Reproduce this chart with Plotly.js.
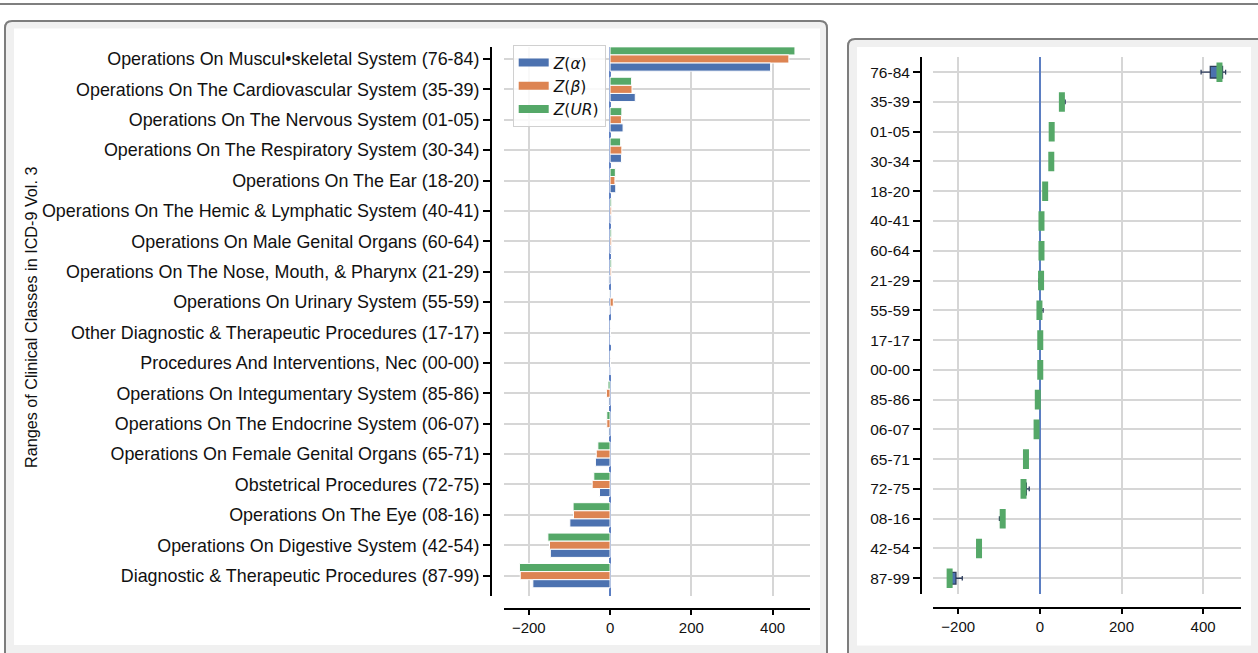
<!DOCTYPE html>
<html>
<head>
<meta charset="utf-8">
<script src="https://cdn.plot.ly/plotly-3.0.1.min.js"></script>
<style>html,body{margin:0;padding:0;background:#fff;}#chart{width:1258px;height:653px;}</style>
</head>
<body>
<div id="chart"></div>
<script>
// ---- data ----
const categories = [
  "Operations On Muscul\u2022skeletal System (76-84)",
  "Operations On The Cardiovascular System (35-39)",
  "Operations On The Nervous System (01-05)",
  "Operations On The Respiratory System (30-34)",
  "Operations On The Ear (18-20)",
  "Operations On The Hemic & Lymphatic System (40-41)",
  "Operations On Male Genital Organs (60-64)",
  "Operations On The Nose, Mouth, & Pharynx (21-29)",
  "Operations On Urinary System (55-59)",
  "Other Diagnostic & Therapeutic Procedures (17-17)",
  "Procedures And Interventions, Nec (00-00)",
  "Operations On Integumentary System (85-86)",
  "Operations On The Endocrine System (06-07)",
  "Operations On Female Genital Organs (65-71)",
  "Obstetrical Procedures (72-75)",
  "Operations On The Eye (08-16)",
  "Operations On Digestive System (42-54)",
  "Diagnostic & Therapeutic Procedures (87-99)"
];
const codes = ["76-84","35-39","01-05","30-34","18-20","40-41","60-64","21-29","55-59",
               "17-17","00-00","85-86","06-07","65-71","72-75","08-16","42-54","87-99"];
const zAlpha = [395, 62, 32, 28, 14, 3, 3, -3, -2, 1, 0, -4, -4, -36, -26, -99, -147, -190];
const zBeta  = [440, 54, 28, 29, 12, 4, 4,  3,  8, 1, 1, -9, -8, -34, -44, -90, -149, -221];
const zUR    = [455, 53, 29, 26, 13, 4, 4,  4, -1, 1, 1, -5, -8, -30, -40, -91, -153, -223];
const xTicks = [-200, 0, 200, 400];
const seriesNames = ["<i>Z</i>(<i>\u03b1</i>)", "<i>Z</i>(<i>\u03b2</i>)", "<i>Z</i>(<i>UR</i>)"];

// ---- style ----
const W = 1258, H = 653;
const BLUE = "#4c72b0", ORANGE = "#dd8452", GREEN = "#55a868";
const FONT = "Liberation Sans, Arial, sans-serif";
const px = v => v / W;
const py = v => 1 - v / H;

function rr(x0, y0, x1, y1, r) {
  const P = (x, y) => px(x).toFixed(5) + "," + py(y).toFixed(5);
  return "M" + P(x0 + r, y0) + " L" + P(x1 - r, y0) + " Q" + P(x1, y0) + " " + P(x1, y0 + r) +
         " L" + P(x1, y1 - r) + " Q" + P(x1, y1) + " " + P(x1 - r, y1) +
         " L" + P(x0 + r, y1) + " Q" + P(x0, y1) + " " + P(x0, y1 - r) +
         " L" + P(x0, y0 + r) + " Q" + P(x0, y0) + " " + P(x0 + r, y0) + " Z";
}

// ---- traces ----
const barLine = {color: "#ffffff", width: 1};
const traces = [];
// order: green top, orange middle, blue bottom within each group (y axis reversed)
traces.push({type: "bar", orientation: "h", x: zUR, y: categories, marker: {color: GREEN, line: barLine}, showlegend: false, xaxis: "x", yaxis: "y", hoverinfo: "x+y"});
traces.push({type: "bar", orientation: "h", x: zBeta, y: categories, marker: {color: ORANGE, line: barLine}, showlegend: false, xaxis: "x", yaxis: "y", hoverinfo: "x+y"});
traces.push({type: "bar", orientation: "h", x: zAlpha, y: categories, marker: {color: BLUE, line: barLine}, showlegend: false, xaxis: "x", yaxis: "y", hoverinfo: "x+y"});
// legend entries
[BLUE, ORANGE, GREEN].forEach((c, i) => {
  traces.push({type: "scatter", mode: "lines", x: [null], y: [null], name: seriesNames[i],
    line: {color: c, width: 8}, xaxis: "x", yaxis: "y", showlegend: true, legendrank: i + 1});
});

// box data
const boxX = [], boxY = [], medians = [];
for (let i = 0; i < codes.length; i++) {
  const vals = [zAlpha[i], zBeta[i], zUR[i]];
  vals.forEach(v => { boxX.push(v); boxY.push(codes[i]); });
  const s = vals.slice().sort((a, b) => a - b);
  medians.push(s[1]);
}
traces.push({type: "box", orientation: "h", x: boxX, y: boxY, xaxis: "x2", yaxis: "y2",
  quartilemethod: "inclusive", boxpoints: false, fillcolor: BLUE,
  line: {color: "#2e3d5c", width: 1.3}, whiskerwidth: 0.4, showlegend: false});
traces.push({type: "scatter", mode: "markers", x: medians, y: codes, xaxis: "x2", yaxis: "y2",
  marker: {symbol: "line-ns", size: 14, color: GREEN, line: {color: GREEN, width: 6}}, showlegend: false});

// ---- layout ----
const shapes = [
  {type: "line", xref: "paper", yref: "paper", x0: 0, x1: 1, y0: py(4), y1: py(4), line: {color: "#555", width: 1.5}, layer: "below"},
  {type: "path", xref: "paper", yref: "paper", path: rr(5, 21, 827, 670, 7), fillcolor: "#f0f0f0", line: {color: "#7d7d7d", width: 2}, layer: "below"},
  {type: "path", xref: "paper", yref: "paper", path: rr(14, 28.5, 820, 645, 0.01), fillcolor: "#ffffff", line: {width: 0}, layer: "below"},
  {type: "path", xref: "paper", yref: "paper", path: rr(848, 39, 1275, 670, 7), fillcolor: "#f0f0f0", line: {color: "#7d7d7d", width: 2}, layer: "below"},
  {type: "path", xref: "paper", yref: "paper", path: rr(857, 47, 1251, 645.5, 0.01), fillcolor: "#ffffff", line: {width: 0}, layer: "below"}
];

const xCommon = {
  range: [-261, 492], tickvals: xTicks, ticks: "outside", ticklen: 5, tickwidth: 1.5, tickcolor: "#000",
  showline: true, linecolor: "#000", linewidth: 2, showgrid: true, gridcolor: "#d6d6d6", gridwidth: 1.5,
  zeroline: true, zerolinecolor: "#5b7ec2", zerolinewidth: 2, anchor: "free",
  tickfont: {family: FONT, size: 15, color: "#111"}, fixedrange: true
};
const yCommon = {
  type: "category", categoryorder: "array", ticks: "outside", ticklen: 7, tickwidth: 1.5, tickcolor: "#000",
  showline: true, linecolor: "#000", linewidth: 2, showgrid: true, gridcolor: "#d6d6d6", gridwidth: 1.5,
  zeroline: false, anchor: "free", side: "left", fixedrange: true
};

const layout = {
  width: W, height: H, margin: {l: 0, r: 0, t: 0, b: 0},
  paper_bgcolor: "#ffffff", plot_bgcolor: "rgba(0,0,0,0)",
  barmode: "group", bargap: 0.2, bargroupgap: 0, boxgap: 0.44,
  font: {family: FONT, color: "#111"},
  showlegend: true,
  legend: {x: px(512.7), y: py(45), xanchor: "left", yanchor: "top",
    bgcolor: "rgba(255,255,255,0.85)", bordercolor: "#d0d0d0", borderwidth: 1,
    font: {family: "DejaVu Sans, sans-serif", size: 15.5, color: "#111"}, traceorder: "normal"},
  xaxis: Object.assign({}, xCommon, {domain: [px(504), px(810)], position: py(609)}),
  yaxis: Object.assign({}, yCommon, {categoryarray: categories, range: [17.67, -0.395],
    domain: [py(596), py(47)], position: px(491), tickfont: {family: FONT, size: 17.9, color: "#111"}}),
  xaxis2: Object.assign({}, xCommon, {domain: [px(933.3), px(1240.7)], position: py(608.3)}),
  yaxis2: Object.assign({}, yCommon, {categoryarray: codes, range: [17.54, -0.52],
    domain: [py(594.3), py(56.7)], position: px(921), tickfont: {family: FONT, size: 15.5, color: "#111"}}),
  shapes: shapes,
  annotations: [{text: "Ranges of Clinical Classes in ICD-9 Vol. 3", xref: "paper", yref: "paper",
    x: px(31), y: py(318), textangle: -90, showarrow: false, xanchor: "center", yanchor: "middle",
    font: {family: FONT, size: 16.2, color: "#111"}}]
};

Plotly.newPlot("chart", traces, layout, {displayModeBar: false, staticPlot: false});
</script>
</body>
</html>
